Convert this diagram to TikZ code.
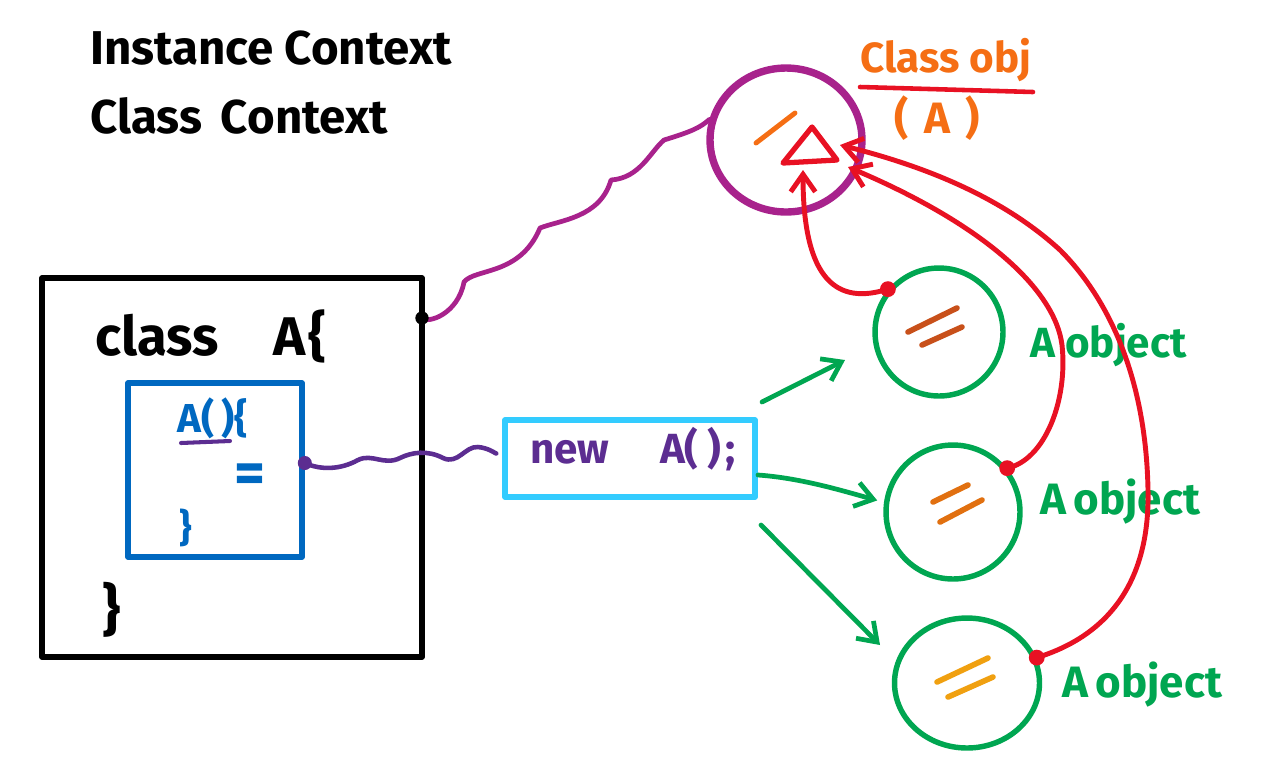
\documentclass[tikz,border=0pt]{standalone}
\usepackage{fontspec}
\setmainfont{Fira Sans}
\usepackage{graphicx}
\usetikzlibrary{arrows.meta,shapes.geometric,calc}
\definecolor{cmag}{RGB}{168,34,140}
\definecolor{corange}{RGB}{245,110,20}
\definecolor{cred}{RGB}{232,17,35}
\definecolor{cgreen}{RGB}{0,166,81}
\definecolor{cblue}{RGB}{0,104,192}
\definecolor{ccyan}{RGB}{51,204,255}
\definecolor{cpurple}{RGB}{92,45,145}
\definecolor{ordark}{RGB}{200,80,26}
\definecolor{ormid}{RGB}{225,112,16}
\definecolor{oryel}{RGB}{240,160,16}
\begin{document}
\begin{tikzpicture}[x=0.02cm,y=-0.02cm,line cap=round,line join=round,
  boxline/.style={line width=3.2pt,inner sep=0pt},
  objcircle/.style={draw=cgreen,line width=3.1pt,inner sep=0pt},
  redarrow/.style={cred,line width=2.8pt,-{Straight Barb[length=10pt,width=14pt]}},
  garrow/.style={cgreen,line width=2.7pt,-{Straight Barb[length=10pt,width=14pt]}},
  label/.style={anchor=base west,inner sep=0pt}]
\useasboundingbox (0,0) rectangle (1287,769);

% headings
\node[label,font=\bfseries\fontsize{27}{30}\selectfont] (t1) at (90,64) {Instance Context};
\node[label,font=\bfseries\fontsize{27}{30}\selectfont] (t2) at (90,133) {Class\hspace{0.4em}Context};

% class box
\node[draw=black,boxline,minimum width=7.6cm,minimum height=7.58cm] (classbox) at (232,467.5) {};
\node[label,font=\bfseries\fontsize{31}{34}\selectfont] (clsA) at (95,355) {class\hspace{1.0em}A\hspace{0.05em}\{};
\node[font=\bfseries\fontsize{32}{34}\selectfont,inner sep=0pt] (cb2) at (112,610) {\}};

% constructor box
\node[draw=cblue,boxline,minimum size=3.48cm] (ctor) at (215,470) {};
\node[label,text=cblue,font=\bfseries\fontsize{23}{26}\selectfont] (ctorhead) at (177,432) {A(\,)\{};
\coordinate (ul1) at (181,443);
\coordinate (ul2) at (230,441);
\draw[cpurple,line width=2.3pt] (ul1) -- (ul2);
\node[text=cblue,font=\bfseries\fontsize{34}{36}\selectfont,inner sep=0pt] (eq) at (250,479) {=};
\node[text=cblue,font=\bfseries\fontsize{22}{24}\selectfont,inner sep=0pt] (cb1) at (186,528) {\}};

% new box
\node[draw=ccyan,boxline,minimum width=5cm,minimum height=1.54cm] (newbox) at (630,458.5) {};
\node[label,text=cpurple,font=\bfseries\fontsize{24}{27}\selectfont] (newtxt) at (530,463) {new\hspace{1.2em}A(\hspace{0.2em})\hspace{0.1em};};

% class object
\node[draw=cmag,ellipse,line width=4.2pt,minimum width=3.04cm,minimum height=2.88cm,inner sep=0pt] (cobj) at (786,140) {};
\coordinate (sl1) at (756,143);
\coordinate (sl2) at (795,113);
\draw[corange,line width=2.8pt] (sl1) -- (sl2);
\coordinate (tv1) at (783,163);
\coordinate (tv2) at (812,127);
\coordinate (tv3) at (837,160);
\draw[cred,line width=3pt] (tv1) -- (tv2) -- (tv3) -- cycle;
\coordinate (tb) at (803,170);
\coordinate (tr1) at (840,145);
\coordinate (tr2) at (848,167);
\node[label,text=corange,font=\bfseries\fontsize{24}{28}\selectfont] (clsobj) at (860,72) {Class obj};
\coordinate (u1) at (860,87);
\coordinate (u2) at (1033,92);
\draw[cred,line width=2.6pt] (u1) -- (u2);
\node[text=corange,font=\bfseries\fontsize{25}{28}\selectfont,inner sep=0pt] (clsA2) at (937,118) {(\hspace{0.35em}A\hspace{0.35em})};

% objects
\node[objcircle,circle,minimum size=2.56cm] (o1) at (939,332) {};
\node[objcircle,circle,minimum size=2.68cm] (o2) at (953,512) {};
\node[objcircle,ellipse,minimum width=2.9cm,minimum height=2.6cm] (o3) at (967,683) {};

\draw[ordark,line width=3.2pt] (908,332) -- (957,308) (922,345) -- (962,327);
\draw[ormid,line width=3.2pt] (933,502) -- (968,485) (940,522) -- (982,500);
\draw[oryel,line width=3.2pt] (937,682) -- (988,658) (948,697) -- (993,677);

\node[label,text=cgreen,font=\bfseries\fontsize{24}{28}\selectfont] (l1) at (1030,357) {A object};
\node[label,text=cgreen,font=\bfseries\fontsize{25}{28}\selectfont] (l2) at (1040,514) {A\,object};
\node[label,text=cgreen,font=\bfseries\fontsize{25}{28}\selectfont] (l3) at (1062,697) {A\,object};

% magenta wavy connector
\coordinate (mstart) at (422,318);
\draw[cmag,line width=2.7pt] (mstart) .. controls (428,324) and (458,314) .. (464,282)
  .. controls (475,268) and (520,276) .. (540,228)
  .. controls (560,220) and (600,218) .. (611,180)
  .. controls (640,178) and (650,152) .. (664,140)
  .. controls (690,132) and (700,128) .. (cobj.165);
\fill[black] (mstart) circle (3.8pt);

% purple wavy connector
\coordinate (pstart) at ($(ctor.east)+(0,-7)$);
\coordinate (pend) at ($(newbox.west)+(-6,-5)$);
\draw[cpurple,line width=2.6pt] (pstart) .. controls (320,470) and (340,470) .. (358,460)
  .. controls (372,453) and (384,466) .. (400,458)
  .. controls (412,452) and (428,450) .. (443,458)
  .. controls (458,465) and (465,446) .. (478,447)
  .. controls (488,448) and (493,452) .. (pend);
\fill[cpurple] (pstart) circle (4pt);

% green arrows
\coordinate (g1s) at (762,402);
\coordinate (g1e) at (845,360);
\coordinate (g2s) at (758,475);
\coordinate (g3s) at (761,525);
\coordinate (g3e) at (880,645);
\draw[garrow] (g1s) -- (g1e);
\draw[garrow,shorten >=4pt] (g2s) .. controls (800,478) and (840,490) .. (o2.172);
\draw[garrow] (g3s) -- (g3e);

% red arrows
\draw[redarrow] (o1.140) .. controls (838,305) and (803,282) .. (tb);
\draw[redarrow] (o2.39) .. controls (1045,460) and (1068,400) .. (1062,345)
  .. controls (1055,290) and (985,225) .. (tr2);
\draw[redarrow] (o3.20) .. controls (1110,635) and (1150,580) .. (1148,490)
  .. controls (1146,380) and (1110,300) .. (1060,250)
  .. controls (1000,195) and (920,165) .. (tr1);
\fill[cred] (o1.140) circle (4.5pt);
\fill[cred] (o2.39) circle (4.5pt);
\fill[cred] (o3.20) circle (4.5pt);
\end{tikzpicture}
\end{document}
